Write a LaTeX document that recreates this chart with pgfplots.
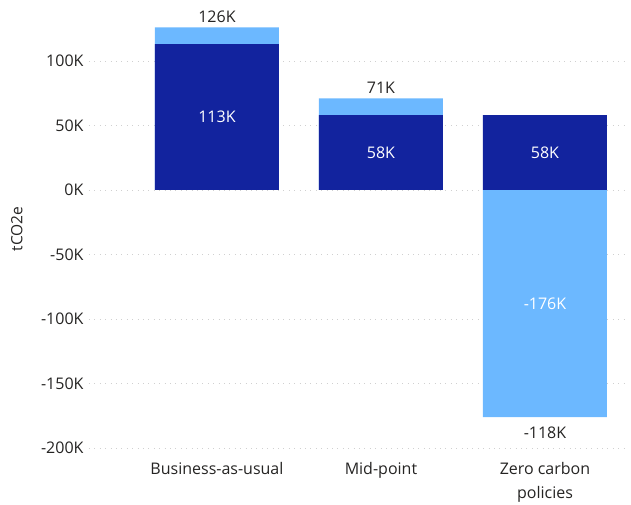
\documentclass[border=0pt]{standalone}
\usepackage{pgfplots}
\pgfplotsset{compat=1.18}
\usepackage{fontspec}
\setmainfont{Open Sans}
\definecolor{darkbar}{HTML}{12239E}
\definecolor{lightbar}{HTML}{6CB8FF}
\definecolor{txt}{HTML}{252423}
\definecolor{gridc}{HTML}{D0D0D0}
\begin{document}
\begin{tikzpicture}
\path[use as bounding box] (-89pt,-57pt) rectangle (542pt,448pt);
\begin{axis}[
  scale only axis,
  width=538pt, height=438pt,
  xmin=-0.78, xmax=2.5,
  ymin=-200, ymax=139.5,
  axis line style={draw=none},
  ybar, bar width=124pt, bar shift=0pt,
  xtick={0,1,2},
  xticklabels={Business-as-usual,Mid-point,{Zero carbon\\policies}},
  xticklabel style={align=center, anchor=north, yshift=-11pt, text=txt, font=\fontsize{16}{24}\selectfont},
  ytick={-200,-150,-100,-50,0,50,100},
  yticklabels={-200K,-150K,-100K,-50K,0K,50K,100K},
  yticklabel style={text=txt, font=\fontsize{16}{19}\selectfont, xshift=-2pt},
  major tick length=0pt,
  ymajorgrids,
  grid style={gridc, line width=0.9pt, dash pattern=on 0.9pt off 4.5pt},
  ylabel={tCO2e},
  ylabel style={at={(axis description cs:-0.134,0.5)}, anchor=center, text=txt, font=\fontsize{15.5}{19}\selectfont},
  clip=false,
  /pgf/number format/assume math mode=true,
]
% light series: totals above, negative below
\addplot[fill=lightbar, draw=none] coordinates {(0,126) (1,71) (2,-176)};
% dark series
\addplot[fill=darkbar, draw=none] coordinates {(0,113) (1,58) (2,58)};
% inside labels (white)
\addplot[draw=none, mark=none, nodes near coords, point meta=explicit symbolic,
  every node near coord/.style={anchor=center, text=white, font=\fontsize{16}{19}\selectfont}]
  coordinates {(0,56.5)[113K] (1,29)[58K] (2,29)[58K] (2,-88)[-176K]};
% total labels above
\addplot[draw=none, mark=none, nodes near coords, point meta=explicit symbolic,
  every node near coord/.style={anchor=south, text=txt, yshift=1pt, font=\fontsize{16}{19}\selectfont}]
  coordinates {(0,126)[126K] (1,71)[71K]};
% total label below
\addplot[draw=none, mark=none, nodes near coords, point meta=explicit symbolic,
  every node near coord/.style={anchor=north, text=txt, yshift=-6pt, font=\fontsize{16}{19}\selectfont}]
  coordinates {(2,-176)[-118K]};
\end{axis}
\end{tikzpicture}
\end{document}
